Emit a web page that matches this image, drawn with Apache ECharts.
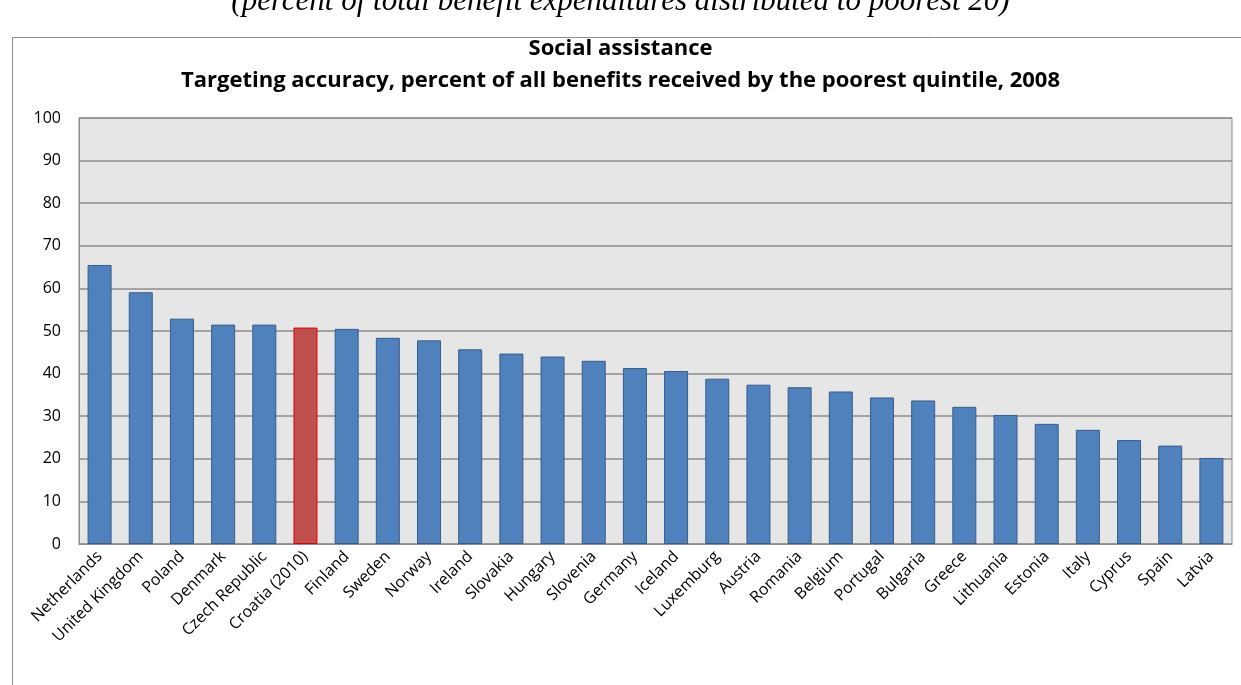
<!DOCTYPE html>
<html>
<head>
<meta charset="utf-8">
<script src="https://cdn.jsdelivr.net/npm/echarts@6/dist/echarts.min.js"></script>
<style>
  html, body { margin: 0; padding: 0; background: #fff; }
  #chart { width: 1241px; height: 685px; }
</style>
</head>
<body>
<div id="chart"></div>
<script>
var countries = ['Netherlands', 'United Kingdom', 'Poland', 'Denmark', 'Czech Republic', 'Croatia (2010)',
  'Finland', 'Sweden', 'Norway', 'Ireland', 'Slovakia', 'Hungary', 'Slovenia', 'Germany', 'Iceland',
  'Luxemburg', 'Austria', 'Romania', 'Belgium', 'Portugal', 'Bulgaria', 'Greece', 'Lithuania', 'Estonia',
  'Italy', 'Cyprus', 'Spain', 'Latvia'];
var shares = [65.5, 59.1, 52.9, 51.5, 51.5, 50.8, 50.5, 48.4, 47.8, 45.7, 44.7, 44.0, 43.0, 41.3, 40.6,
  38.8, 37.4, 36.8, 35.8, 34.4, 33.7, 32.2, 30.3, 28.2, 26.8, 24.4, 23.1, 20.2];
var highlight = 'Croatia (2010)';

var chartDom = document.getElementById('chart');
var myChart = echarts.init(chartDom);

var barData = countries.map(function (c, i) {
  if (c === highlight) {
    return {
      value: shares[i],
      itemStyle: { color: '#C0504D', borderColor: '#E00000' }
    };
  }
  return shares[i];
});

var option = {
  animation: false,
  backgroundColor: '#fff',
  textStyle: { fontFamily: 'Open Sans' },
  graphic: [
    {
      type: 'rect',
      shape: { x: 12.5, y: 37.5, width: 1240, height: 700 },
      style: { fill: 'none', stroke: '#8c8c8c', lineWidth: 1 }
    },
    {
      type: 'text',
      left: 'center',
      top: -14,
      style: {
        text: '(percent of total benefit expenditures distributed to poorest 20)',
        font: 'italic 31px "Liberation Serif"',
        fill: '#000'
      }
    }
  ],
  title: {
    text: 'Social assistance\nTargeting accuracy, percent of all benefits received by the poorest quintile, 2008',
    left: 'center',
    top: 28,
    textStyle: {
      fontFamily: 'Open Sans',
      fontSize: 22,
      fontWeight: 'bold',
      lineHeight: 32,
      color: '#000'
    }
  },
  grid: {
    left: 79,
    right: 9,
    top: 118,
    bottom: 141,
    show: true,
    backgroundColor: '#E6E6E6',
    borderColor: '#8c8c8c',
    borderWidth: 1
  },
  xAxis: {
    type: 'category',
    data: countries,
    axisLine: { lineStyle: { color: '#8c8c8c' } },
    axisTick: { show: false },
    axisLabel: {
      interval: 0,
      rotate: 45,
      color: '#000',
      fontSize: 16,
      margin: 10,
      padding: [0, 0, 0, 0],
      offset: [10, 0]
    }
  },
  yAxis: {
    type: 'value',
    min: 0,
    max: 100,
    interval: 10,
    axisLine: { show: true, lineStyle: { color: '#8c8c8c' } },
    axisTick: { show: false },
    axisLabel: { color: '#000', fontSize: 16, margin: 18 },
    splitLine: { lineStyle: { color: '#8c8c8c', width: 1.5 } }
  },
  series: [
    {
      type: 'bar',
      data: barData,
      barWidth: 24,
      itemStyle: {
        color: '#4F81BD',
        borderColor: '#385D8A',
        borderWidth: 1
      }
    }
  ]
};

myChart.setOption(option);
window.addEventListener('resize', function () { myChart.resize(); });
</script>
</body>
</html>
